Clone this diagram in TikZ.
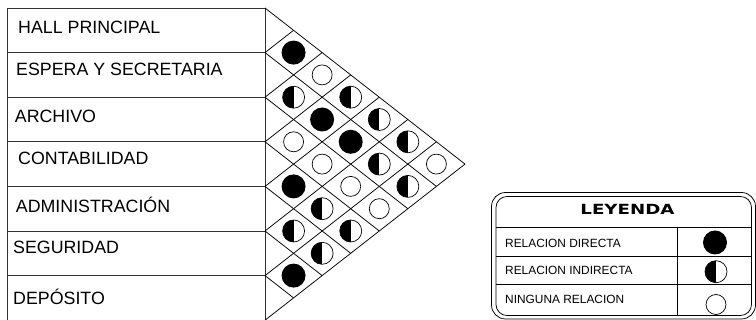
\documentclass[tikz,border=0pt]{standalone}
\usepackage{fontspec}
\setmainfont{Liberation Sans}
\newfontfamily\legfont[FakeStretch=1.3]{DejaVu Sans}
\usepackage{tikz}
\usetikzlibrary{calc}
\definecolor{RLine}{HTML}{333333}
\tikzset{lbl/.style={anchor=base west,inner sep=0,font=\fontsize{17.8}{20}\selectfont}, leglbl/.style={anchor=base west,inner sep=0,font=\fontsize{11.9}{13}\selectfont}, full/.style={circle,fill=black,minimum size=24pt,inner sep=0}, half/.style={circle,draw,line width=0.7pt,minimum size=22pt,inner sep=0,path picture={\fill (path picture bounding box.north) rectangle (path picture bounding box.south west);}}, none/.style={circle,draw,line width=0.7pt,minimum size=20pt,inner sep=0}, grid/.style={draw=RLine,line width=0.9pt}, lat/.style={line width=0.75pt}}

\begin{document}
\begin{tikzpicture}[x=1pt,y=-1pt]
\useasboundingbox (0,0) rectangle (756,320);
% table of spaces
\draw[grid] (7.5,320)--(7.5,8)--(265,8)--(265,320);
\foreach \k in {1,...,6}{\draw[grid] (7.5,8+44.6*\k)--(265,8+44.6*\k);}
\node[lbl] (hall) at (18,33.3) {HALL PRINCIPAL};
\node[lbl] (espera) at (16,76) {ESPERA Y SECRETARIA};
\node[lbl] (archivo) at (14.7,123) {ARCHIVO};
\node[lbl] (conta) at (18,165) {CONTABILIDAD};
\node[lbl] (admin) at (15.7,213) {ADMINISTRACIÓN};
\node[lbl] (seg) at (13,254) {SEGURIDAD};
\node[lbl] (depo) at (13,305) {DEPÓSITO};
% relation matrix
\foreach \k in {0,...,7}{
  \draw[lat] (265,8+44.6*\k)--++({(7-\k)*28.57},{(7-\k)*22.3});
  \draw[lat] (265,8+44.6*\k)--++({\k*28.57},{-\k*22.3});}
\foreach \i/\j/\s in {0/1/full,1/2/half,2/3/none,3/4/full,4/5/half,5/6/full,0/2/none,1/3/full,2/4/none,3/5/half,4/6/half,0/3/half,1/4/full,2/5/none,3/6/half,0/4/half,1/5/half,2/6/none,0/5/half,1/6/half,0/6/none}{
  \node[\s] (r\i\j) at ({265+(\j-\i)*28.57},{8+(\i+\j+1)*22.3}) {};}
% legend
\draw[lat,rounded corners=14pt] (491.5,192.5) rectangle (755.5,319);
\draw[lat,rounded corners=11pt] (496,196.5) rectangle (751.5,315.5);
\draw[lat] (496,227.5)--(751.5,227.5) (496,256)--(751.5,256) (496,284.5)--(751.5,284.5) (677,227.5)--(677,315.5);
\node[anchor=base,inner sep=0,font=\legfont\bfseries\fontsize{14}{16}\selectfont] (leyenda) at (627.5,214.3) {LEYENDA};
\node[leglbl] (ldir) at (505,247.3) {RELACION DIRECTA};
\node[leglbl] (lind) at (505,275) {RELACION INDIRECTA};
\node[leglbl] (lnin) at (505,303.3) {NINGUNA RELACION};
\node[full] (sdir) at (715,242.5) {};
\node[half] (sind) at (716,271.7) {};
\node[none] (snin) at (716,304.5) {};
\end{tikzpicture}
\end{document}
